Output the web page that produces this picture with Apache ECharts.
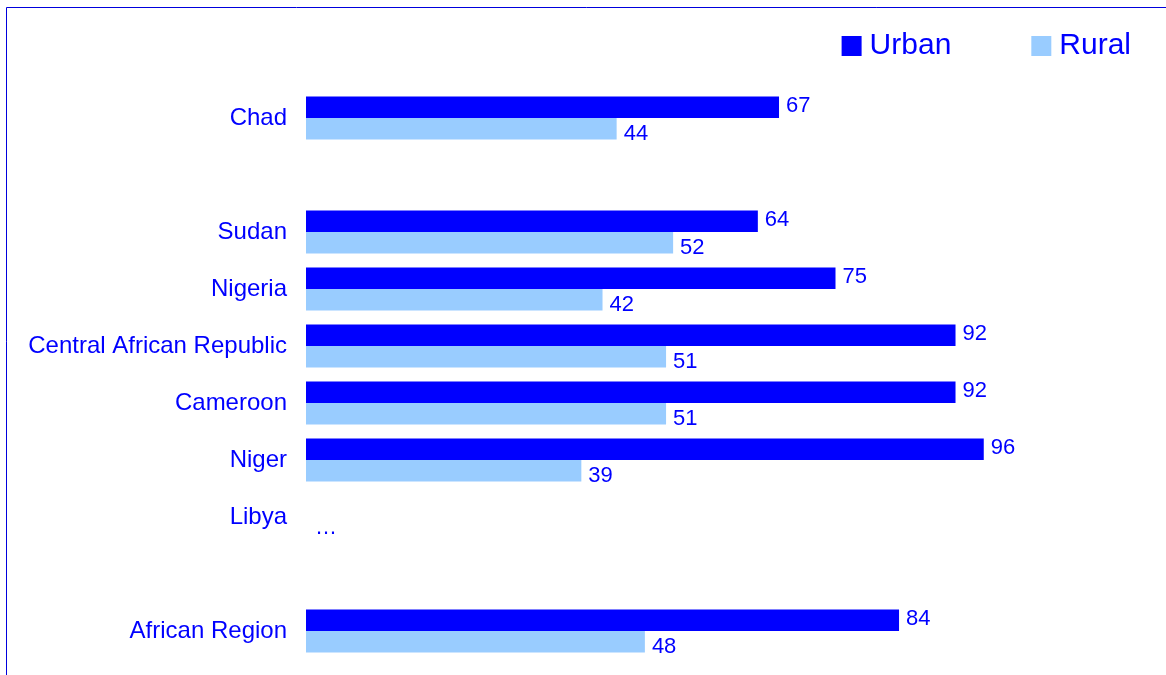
<!DOCTYPE html>
<html>
<head>
<meta charset="utf-8">
<script src="https://cdn.jsdelivr.net/npm/echarts@6/dist/echarts.min.js"></script>
<style>
  html, body { margin: 0; padding: 0; background: #fff; }
  #chart { width: 1166px; height: 675px; }
</style>
</head>
<body>
<div id="chart"></div>
<script>
"use strict";
// categories, blank entries keep the gaps between groups
var countries = ['Chad', '', 'Sudan', 'Nigeria', 'Central African Republic', 'Cameroon', 'Niger', 'Libya', '', 'African Region'];
var urban = [67, null, 64, 75, 92, 92, 96, null, null, 84];
var rural = [44, null, 52, 42, 51, 51, 39, null, null, 48];
// countries with no data show "..."
var noData = ['Libya'];

var BLUE = '#0000FF';
var LIGHT = '#99CCFF';

function main() {
    var myChart = echarts.init(document.getElementById('chart'));

    // rural data, with a "..." placeholder for missing countries
    var ruralData = rural.map(function (v, i) {
        if (v === null && noData.indexOf(countries[i]) >= 0) {
            return {
                value: 0,
                itemStyle: { color: 'transparent' },
                label: { formatter: '…', offset: [2, 0] }
            };
        }
        return v === null ? '-' : v;
    });
    var urbanData = urban.map(function (v) { return v === null ? '-' : v; });

    var option = {
        animation: false,
        textStyle: { fontFamily: 'Liberation Sans, Arial, sans-serif' },
        graphic: [
            {
                type: 'rect',
                shape: { x: 6.5, y: 7.5, width: 1200, height: 700 },
                style: { fill: 'none', stroke: '#0000DD', lineWidth: 1 },
                silent: true
            }
        ],
        legend: {
            right: 30,
            top: 26,
            itemWidth: 20,
            itemHeight: 20,
            itemGap: 80,
            icon: 'rect',
            textStyle: { color: BLUE, fontSize: 30, padding: [0, 0, 0, 3] },
            data: ['Urban', 'Rural']
        },
        grid: {
            left: 306,
            width: 706,
            top: 89.5,
            height: 570,
            containLabel: false
        },
        xAxis: {
            type: 'value',
            min: 0,
            max: 100,
            show: false
        },
        yAxis: {
            type: 'category',
            inverse: true,
            data: countries,
            axisLine: { show: false },
            axisTick: { show: false },
            splitLine: { show: false },
            axisLabel: { color: BLUE, fontSize: 24, margin: 19, padding: [4, 0, 0, 0] }
        },
        series: [
            {
                name: 'Urban',
                type: 'bar',
                data: urbanData,
                barWidth: 21.5,
                barGap: '0%',
                itemStyle: { color: BLUE },
                label: {
                    show: true,
                    position: 'right',
                    distance: 7,
                    offset: [0, -1],
                    color: BLUE,
                    fontSize: 22
                }
            },
            {
                name: 'Rural',
                type: 'bar',
                data: ruralData,
                barWidth: 21.5,
                barGap: '0%',
                itemStyle: { color: LIGHT },
                label: {
                    show: true,
                    position: 'right',
                    distance: 7,
                    offset: [0, 5],
                    color: BLUE,
                    fontSize: 22
                }
            }
        ]
    };
    myChart.setOption(option);
}
main();
</script>
</body>
</html>
